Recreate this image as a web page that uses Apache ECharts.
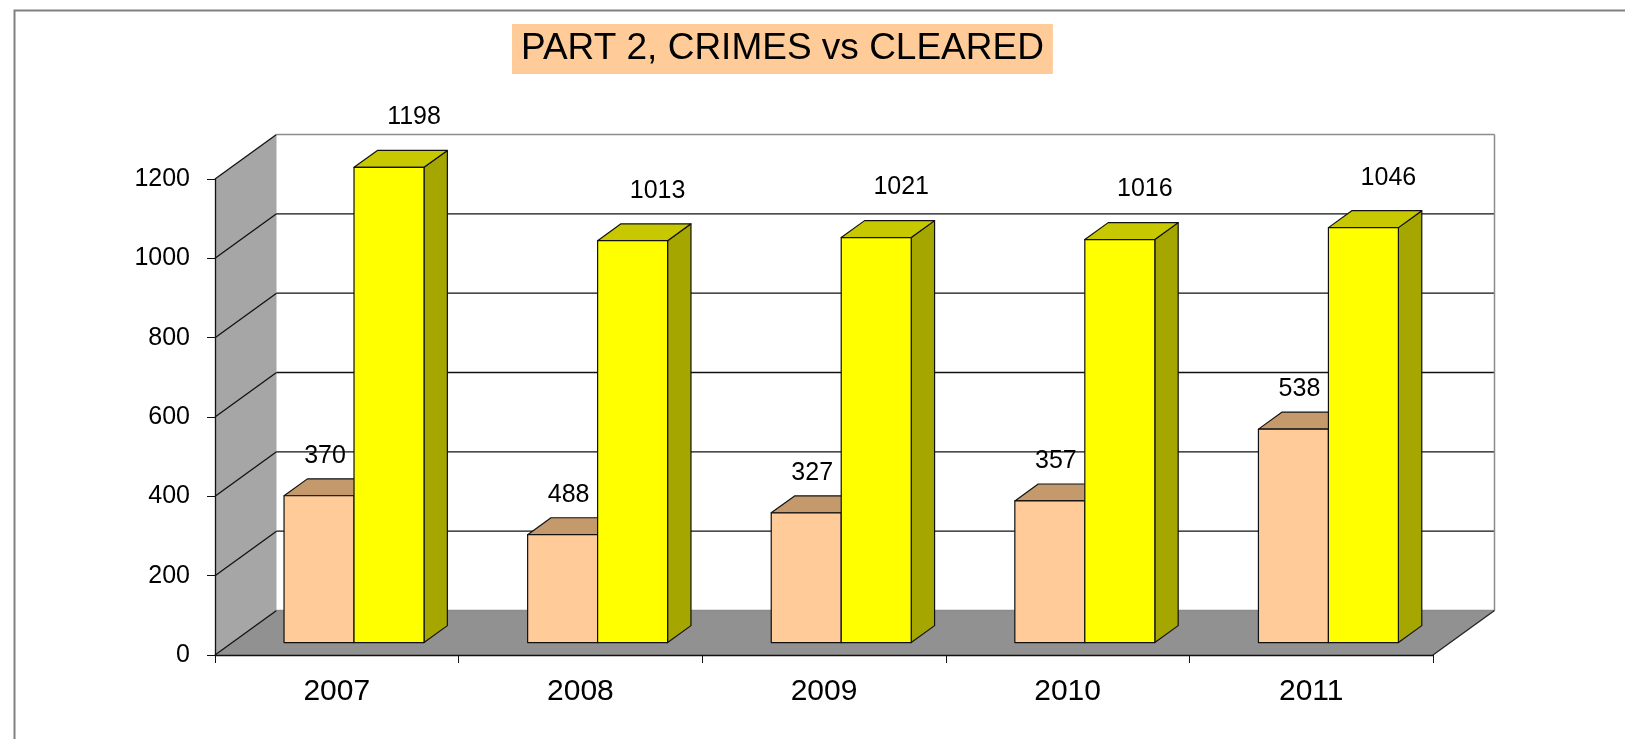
<!DOCTYPE html>
<html>
<head>
<meta charset="utf-8">
<title>PART 2, CRIMES vs CLEARED</title>
<script src="https://cdn.jsdelivr.net/npm/echarts@6/dist/echarts.min.js"></script>
<style>
  html, body { margin: 0; padding: 0; background: #fff; }
  #chart { width: 1625px; height: 739px; }
</style>
</head>
<body>
<div id="chart"></div>
<script>
// data
const years = ['2007', '2008', '2009', '2010', '2011'];
const cleared = [370, 272, 327, 357, 538];          // bar heights as drawn
const clearedLabels = ['370', '488', '327', '357', '538'];
const crimes = [1198, 1013, 1021, 1016, 1046];
const crimeLabels = ['1198', '1013', '1021', '1016', '1046'];
const yTicks = [0, 200, 400, 600, 800, 1000, 1200];

// 3d look
const DX = 61.5, DY = -44.5;        // depth of the floor
const FRONT = 0.28, DEPTH = 0.38;   // where bars sit in that depth
const BAR_W = 0.2873;               // bar width, share of a category
const FONT = 'Liberation Sans, Arial, sans-serif';

const chart = echarts.init(document.getElementById('chart'));

function renderWalls(params, api) {
  const cs = params.coordSys;
  const x0 = cs.x, x1 = cs.x + cs.width;
  const top = cs.y, bottom = cs.y + cs.height;
  const kids = [
    { type: 'polygon', shape: { points: [[x0 + DX, top + DY], [x1 + DX, top + DY], [x1 + DX, bottom + DY], [x0 + DX, bottom + DY]] },
      style: { fill: '#ffffff' } },
    { type: 'polygon', shape: { points: [[x0, top], [x0 + DX, top + DY], [x0 + DX, bottom + DY], [x0, bottom]] },
      style: { fill: '#a6a6a6' } },
    { type: 'polygon', shape: { points: [[x0, bottom], [x0 + DX, bottom + DY], [x1 + DX, bottom + DY], [x1, bottom]] },
      style: { fill: '#919191' } }
  ];
  yTicks.forEach(function (t, k) {
    const y = api.coord([0, t])[1];
    const edge = (k === 0 || k === yTicks.length - 1);
    kids.push({ type: 'line', shape: { x1: x0, y1: y, x2: x0 + DX, y2: y + DY },
      style: { stroke: '#111', lineWidth: 1.3 } });
    kids.push({ type: 'line', shape: { x1: x0 + DX, y1: y + DY, x2: x1 + DX, y2: y + DY },
      style: { stroke: edge ? '#8c8c8c' : '#111', lineWidth: edge ? 1.5 : 1.3 } });
  });
  kids.push({ type: 'line', shape: { x1: x1 + DX, y1: top + DY, x2: x1 + DX, y2: bottom + DY },
    style: { stroke: '#8c8c8c', lineWidth: 1.5 } });
  kids.push({ type: 'line', shape: { x1: x1, y1: bottom, x2: x1 + DX, y2: bottom + DY },
    style: { stroke: '#222', lineWidth: 1.3 } });
  return { type: 'group', children: kids };
}

function barRenderer(side, colors, labels, off) {
  return function (params, api) {
    const i = api.value(0), v = api.value(1);
    const base = api.coord([i, 0]);
    const tp = api.coord([i, v]);
    const bw = api.size([1, 0])[0] * BAR_W;
    const fx = DX * FRONT, fy = DY * FRONT;
    const ddx = DX * DEPTH, ddy = DY * DEPTH;
    const xL = side === 0 ? base[0] + fx - bw : base[0] + fx;
    const xR = xL + bw;
    const yB = base[1] + fy, yT = tp[1] + fy;
    const line = { stroke: '#111', lineWidth: 1.2, lineJoin: 'round' };
    return {
      type: 'group',
      children: [
        { type: 'polygon', shape: { points: [[xR, yT], [xR + ddx, yT + ddy], [xR + ddx, yB + ddy], [xR, yB]] },
          style: Object.assign({ fill: colors[2] }, line) },
        { type: 'polygon', shape: { points: [[xL, yT], [xL + ddx, yT + ddy], [xR + ddx, yT + ddy], [xR, yT]] },
          style: Object.assign({ fill: colors[1] }, line) },
        { type: 'polygon', shape: { points: [[xL, yT], [xR, yT], [xR, yB], [xL, yB]] },
          style: Object.assign({ fill: colors[0] }, line) },
        { type: 'text', x: (xL + xR) / 2 + off[0], y: yT + off[1],
          style: { text: labels[params.dataIndex], fill: '#000', fontSize: 25, fontFamily: FONT,
                   align: 'center', verticalAlign: 'middle' } }
      ]
    };
  };
}

const option = {
  backgroundColor: '#ffffff',
  animation: false,
  title: {
    text: 'PART 2, CRIMES vs CLEARED',
    left: 512,
    top: 24,
    padding: [5, 9],
    backgroundColor: '#FFCC99',
    textStyle: { fontSize: 37, fontWeight: 'normal', fontFamily: FONT, color: '#000', lineHeight: 40 }
  },
  graphic: [
    { type: 'rect', left: 12, top: 8, z: -10, silent: true,
      shape: { width: 1700, height: 800 },
      style: { fill: 'none', stroke: '#808080', lineWidth: 2 } }
  ],
  grid: { left: 215, right: 192, top: 179, bottom: 84 },
  xAxis: {
    type: 'category',
    data: years,
    z: 10,
    axisLine: { lineStyle: { color: '#111', width: 1.3 } },
    axisTick: { show: true, length: 8, lineStyle: { color: '#111' } },
    axisLabel: { fontSize: 30, fontFamily: FONT, color: '#000', margin: 22 },
    splitLine: { show: false }
  },
  yAxis: {
    type: 'value',
    min: 0,
    max: 1200,
    interval: 200,
    z: 10,
    axisLine: { show: true, lineStyle: { color: '#111', width: 1.3 } },
    axisTick: { show: true, length: 8, lineStyle: { color: '#111' } },
    axisLabel: { fontSize: 25, fontFamily: FONT, color: '#000', margin: 25,
      formatter: function (v) { return yTicks.indexOf(v) >= 0 ? String(v) : ''; } },
    splitLine: { show: false }
  },
  series: [
    { type: 'custom', name: 'walls', z: 1, silent: true, data: [[0, 0]],
      renderItem: renderWalls },
    { type: 'custom', name: 'Cleared', z: 3,
      encode: { x: 0, y: 1 },
      data: cleared.map(function (v, i) { return [i, v]; }),
      renderItem: barRenderer(0, ['#FFCC99', '#C49A6C', '#A6845C'], clearedLabels, [6, -40]) },
    { type: 'custom', name: 'Crimes', z: 4,
      encode: { x: 0, y: 1 },
      data: crimes.map(function (v, i) { return [i, v]; }),
      renderItem: barRenderer(1, ['#FFFF00', '#C8C800', '#A6A600'], crimeLabels, [25, -50]) }
  ]
};

chart.setOption(option);
</script>
</body>
</html>
